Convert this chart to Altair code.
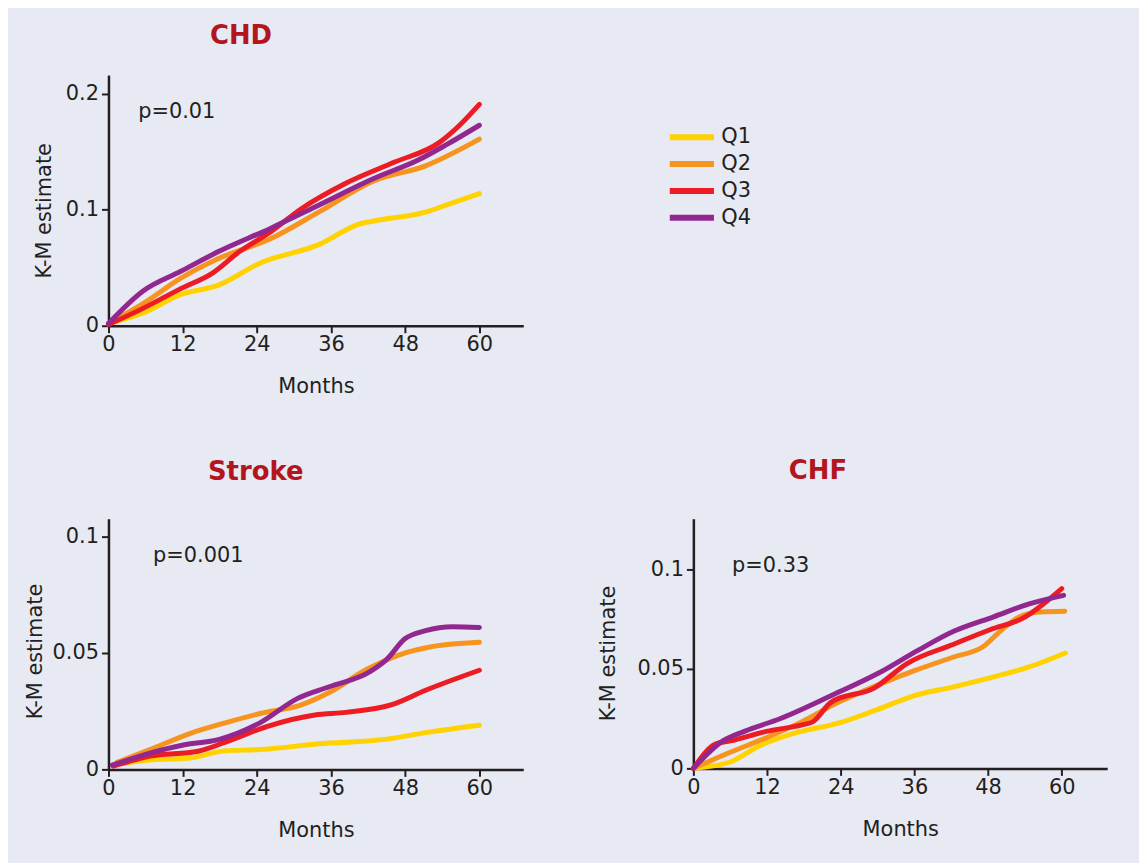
import altair as alt
import pandas as pd

FONT = "DejaVu Sans"
INK = "#231F20"
TITLE_RED = "#B2151E"
BG = "#E7E9F3"

quartiles = ["Q1", "Q2", "Q3", "Q4"]
q_colors = ["#FFD200", "#F7941D", "#ED1C24", "#92278F"]

# ---- CHD ----
chd_q1_m = [0, 5.6, 11.7, 17.8, 24.5, 34.0, 40.7, 43.5, 51.3, 54.6, 60.0]
chd_q1_v = [0.002, 0.011, 0.027, 0.035, 0.054, 0.070, 0.088, 0.091, 0.098, 0.104, 0.114]
chd_q2_m = [0, 5.6, 11.7, 17.8, 26.2, 34.0, 42.9, 51.3, 60.0]
chd_q2_v = [0.002, 0.019, 0.041, 0.058, 0.075, 0.098, 0.125, 0.138, 0.161]
chd_q3_m = [0, 5.6, 11.7, 16.7, 21.2, 26.2, 31.2, 38.4, 46.2, 53.5, 56.8, 60.0]
chd_q3_v = [0.001, 0.015, 0.032, 0.045, 0.064, 0.081, 0.101, 0.123, 0.141, 0.158, 0.173, 0.191]
chd_q4_m = [0, 5.6, 11.7, 17.8, 26.2, 34.0, 42.9, 50.1, 54.6, 60.0]
chd_q4_v = [0.002, 0.030, 0.047, 0.064, 0.084, 0.104, 0.127, 0.143, 0.156, 0.173]

# ---- Stroke ----
stroke_q1_m = [0.8, 6.7, 13.4, 18.9, 24.5, 34.0, 45.1, 51.8, 60.0]
stroke_q1_v = [0.002, 0.004, 0.005, 0.008, 0.0085, 0.011, 0.013, 0.016, 0.019]
stroke_q2_m = [1.4, 6.7, 13.4, 18.9, 24.5, 31.2, 35.7, 41.8, 47.9, 51.8, 60.0]
stroke_q2_v = [0.003, 0.0085, 0.0156, 0.020, 0.024, 0.0277, 0.033, 0.043, 0.050, 0.0525, 0.0546]
stroke_q3_m = [0.8, 6.7, 14.5, 20.0, 25.6, 33.4, 38.4, 45.7, 51.3, 60.0]
stroke_q3_v = [0.0014, 0.0057, 0.0078, 0.0128, 0.0184, 0.0234, 0.0245, 0.0277, 0.034, 0.0426]
stroke_q4_m = [0.6, 6.7, 12.3, 17.8, 24.5, 30.6, 35.7, 42.3, 45.1, 47.9, 51.3, 55.7, 60.0]
stroke_q4_v = [0.0018, 0.007, 0.0106, 0.0128, 0.020, 0.0305, 0.0355, 0.042, 0.0475, 0.056, 0.0596, 0.0613, 0.061]

# ---- CHF ----
chf_q1_m = [0, 6.0, 10.7, 16.6, 23.6, 29.5, 35.9, 42.4, 48.9, 54.7, 60.6]
chf_q1_v = [0.0, 0.0032, 0.0113, 0.0178, 0.0227, 0.029, 0.0365, 0.041, 0.046, 0.051, 0.058]
chf_q2_m = [0, 6.0, 11.9, 17.7, 23.6, 30.1, 35.9, 42.4, 47.1, 50.0, 53.0, 56.5, 60.5]
chf_q2_v = [0.0, 0.0081, 0.0154, 0.0235, 0.0332, 0.042, 0.049, 0.056, 0.061, 0.069, 0.076, 0.0786, 0.079]
chf_q3_m = [0, 3.6, 6.0, 11.9, 17.7, 19.5, 22.4, 29.5, 34.8, 42.4, 48.3, 53.6, 60.0]
chf_q3_v = [0.0, 0.0122, 0.0138, 0.0186, 0.0219, 0.0235, 0.0332, 0.0405, 0.0527, 0.0624, 0.0697, 0.0754, 0.0904]
chf_q4_m = [0, 4.8, 8.3, 14.2, 22.4, 30.1, 36.5, 42.4, 48.9, 54.7, 60.3]
chf_q4_v = [0.0, 0.0138, 0.0186, 0.0251, 0.0365, 0.0478, 0.0592, 0.0689, 0.0762, 0.0827, 0.0870]

month_ticks = [0, 12, 24, 36, 48, 60]
p_labels = ["p=0.01", "p=0.001", "p=0.33"]
p_x = [4.8, 7.2, 6.3]
p_y = [0.1845, 0.0915, 0.1015]


def frame(series):
    rows = []
    for q, (ms, vs) in zip(quartiles, series):
        for m, v in zip(ms, vs):
            rows.append({"month": m, "est": v, "Q": q})
    return pd.DataFrame(rows)


chd_df = frame([(chd_q1_m, chd_q1_v), (chd_q2_m, chd_q2_v), (chd_q3_m, chd_q3_v), (chd_q4_m, chd_q4_v)])
stroke_df = frame([(stroke_q1_m, stroke_q1_v), (stroke_q2_m, stroke_q2_v), (stroke_q3_m, stroke_q3_v), (stroke_q4_m, stroke_q4_v)])
chf_df = frame([(chf_q1_m, chf_q1_v), (chf_q2_m, chf_q2_v), (chf_q3_m, chf_q3_v), (chf_q4_m, chf_q4_v)])

LABEL_EXPR = "datum.value == 0 ? '0' : toString(datum.value)"


def panel(df, title, title_dx, title_offset, xmax, ymax, yticks, ytitle_x, ytitle_y,
          p_idx, width, height, legend):
    color = alt.Color("Q:N", scale=alt.Scale(domain=quartiles, range=q_colors),
                      legend=legend, title=None)
    x = alt.X("month:Q", scale=alt.Scale(domain=[0, xmax], nice=False, zero=True),
              axis=alt.Axis(values=month_ticks, title="Months", titlePadding=21,
                            labelPadding=1, labelFlush=False))
    y = alt.Y("est:Q", scale=alt.Scale(domain=[0, ymax], nice=False),
              axis=alt.Axis(values=yticks, title="K-M estimate", labelExpr=LABEL_EXPR,
                            titleX=ytitle_x, titleY=ytitle_y, titleBaseline="middle",
                            titleAngle=270, labelPadding=3, labelFlush=False))
    lines = alt.Chart(df).mark_line(strokeWidth=5, strokeCap="round", strokeJoin="round",
                                    interpolate="monotone").encode(x=x, y=y, color=color,
                                                                   order="month:Q")
    ann = alt.Chart(pd.DataFrame({"month": [p_x[p_idx]], "est": [p_y[p_idx]],
                                  "t": [p_labels[p_idx]]})).mark_text(
        align="left", baseline="middle", font=FONT, fontSize=21, color=INK
    ).encode(x="month:Q", y="est:Q", text="t:N")
    return alt.layer(lines, ann).properties(
        width=width, height=height,
        title=alt.TitleParams(title, anchor="start", frame="group", dx=title_dx,
                              offset=title_offset, baseline="alphabetic",
                              fontSize=26, fontWeight="bold", color=TITLE_RED, font=FONT),
    )


legend = alt.Legend(orient="none", legendX=576, legendY=52, padding=0,
                    symbolType="M-3.1,0H3.1", symbolSize=205, symbolStrokeWidth=6,
                    labelOffset=19, rowPadding=2, labelFont=FONT, labelFontSize=21,
                    labelColor=INK, symbolOpacity=1)

chd = panel(chd_df, "CHD", 102, 5, 67.1, 0.2163, [0, 0.1, 0.2], -64, 136, 0, 417, 252, legend)
stroke = panel(stroke_df, "Stroke", 100, 13, 67.1, 0.1077, [0, 0.05, 0.1], -73, 133, 1, 417, 252, None)
chf = panel(chf_df, "CHF", 96, 14, 67.4, 0.1255, [0, 0.05, 0.1], -85, 135, 2, 416, 251, None)

bottom = alt.hconcat(stroke, chf, spacing=171, bounds="flush")
chart = alt.vconcat(chd, bottom, spacing=194, bounds="flush").resolve_scale(
    color="independent"
).resolve_legend(color="independent").properties(
    background=BG,
    padding={"left": 17, "top": 13, "right": 32, "bottom": 80},
).configure_view(stroke=None).configure_axis(
    grid=False, domainColor=INK, domainWidth=2.5, tickColor=INK, tickWidth=2, tickSize=7,
    labelFont=FONT, labelFontSize=21, labelColor=INK, titleFont=FONT, titleFontSize=21,
    titleFontWeight="normal", titleColor=INK,
)

chart.save("out.html", embed_options={"renderer": "svg", "actions": False})
